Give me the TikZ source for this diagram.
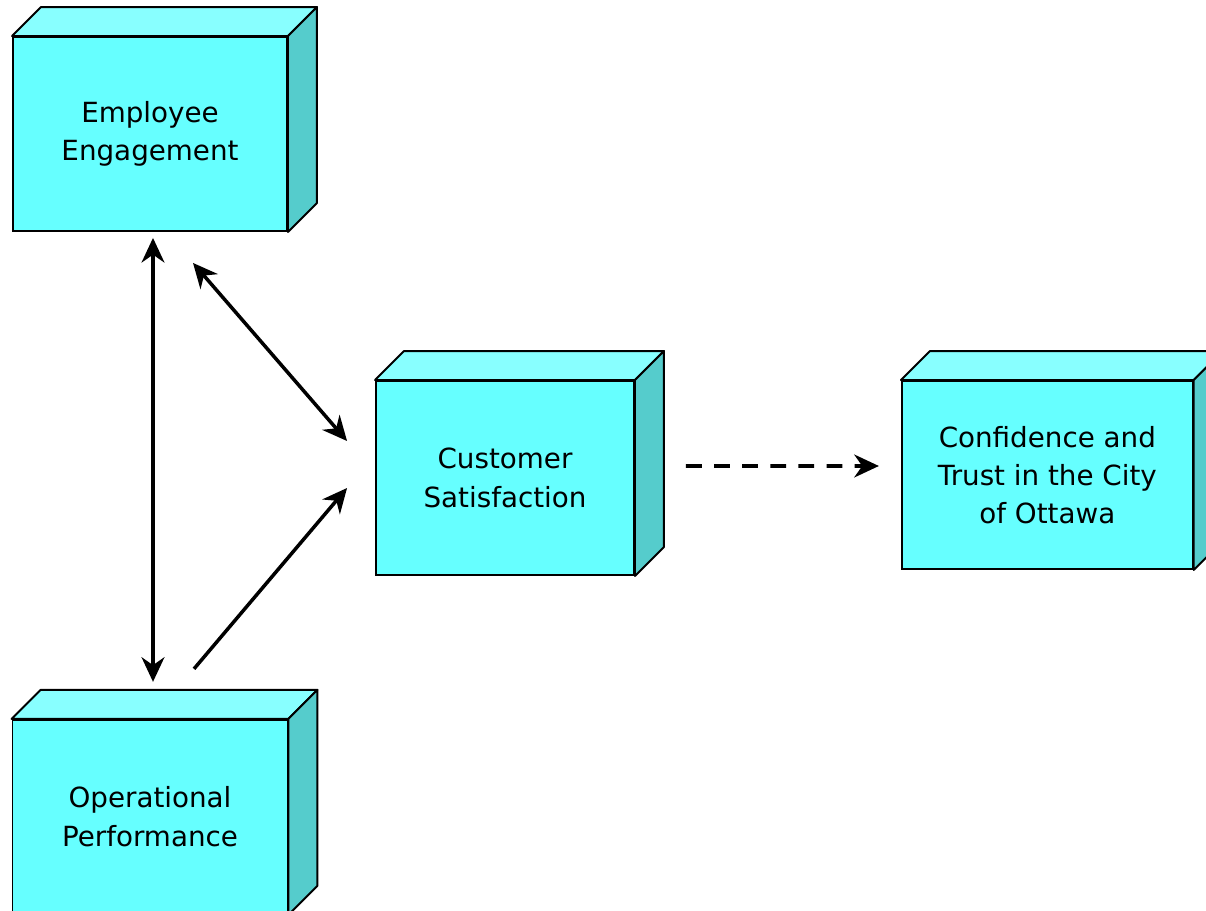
\documentclass[tikz,border=0pt]{standalone}
\usepackage{fontspec}
\setmainfont{DejaVu Sans}
\usetikzlibrary{arrows.meta, positioning, calc}

\definecolor{frontcyan}{HTML}{66FFFF}
\definecolor{topcyan}{HTML}{88FFFF}
\definecolor{sidecyan}{HTML}{55CCCC}

\begin{document}
\begin{tikzpicture}[
      x=0.02cm, y=-0.02cm,
      box/.style={rectangle, draw, line width=1.1pt, fill=frontcyan, align=center, inner sep=0pt,
                  font=\fontsize{15.8}{21.8}\selectfont},
      topface/.style={draw, line width=1.1pt, fill=topcyan, line join=round},
      sideface/.style={draw, line width=1.1pt, fill=sidecyan, line join=round},
      arrow/.style={-{Stealth[length=14pt, width=13pt, inset=4.5pt]}, line width=2pt},
      dblarrow/.style={{Stealth[length=14pt, width=13pt, inset=4.5pt]}-{Stealth[length=14pt, width=13pt, inset=4.5pt]}, line width=2pt}
    ]
    \useasboundingbox (0,0) rectangle (1206,911);
    \clip (0,0) rectangle (1206,911);

    \node[box, minimum width=5.48cm, minimum height=3.88cm] (ee) at (150,134) {Employee\\Engagement};
    \node[box, minimum width=5.16cm, minimum height=3.88cm] (cs) at (505,478) {Customer\\Satisfaction};
    \node[box, minimum width=5.82cm, minimum height=3.76cm, right=5.32cm of cs, yshift=0.06cm] (ct) {Confidence and\\Trust in the City\\of Ottawa};
    \node[box, minimum width=5.50cm, minimum height=3.88cm, below=9.74cm of ee] (op) {Operational\\Performance};

    % 3d faces of the boxes
    \foreach \n in {ee, cs, ct, op} {
      \draw[topface] (\n.north west) -- ++(0.58cm,0.58cm) -- ($(\n.north east)+(0.58cm,0.58cm)$) -- (\n.north east) -- cycle;
      \draw[sideface] (\n.north east) -- ++(0.58cm,0.58cm) -- ($(\n.south east)+(0.58cm,0.58cm)$) -- (\n.south east) -- cycle;
    }

    \draw[dblarrow] ($(ee.south)+(3,6)$) -- ($(op.north)+(3,-37)$);
    \draw[dblarrow] ($(ee.south)+(43,31)$) -- ($(cs.west)+(-28,-37)$);
    \draw[arrow] ($(op.north)+(44,-50)$) -- ($(cs.west)+(-28,10)$);
    \draw[arrow, line width=2.2pt, dash pattern=on 9pt off 7pt] ($(cs.east)+(51,-12)$) -- ($(ct.west)+(-22,-9)$);
  \end{tikzpicture}
\end{document}
